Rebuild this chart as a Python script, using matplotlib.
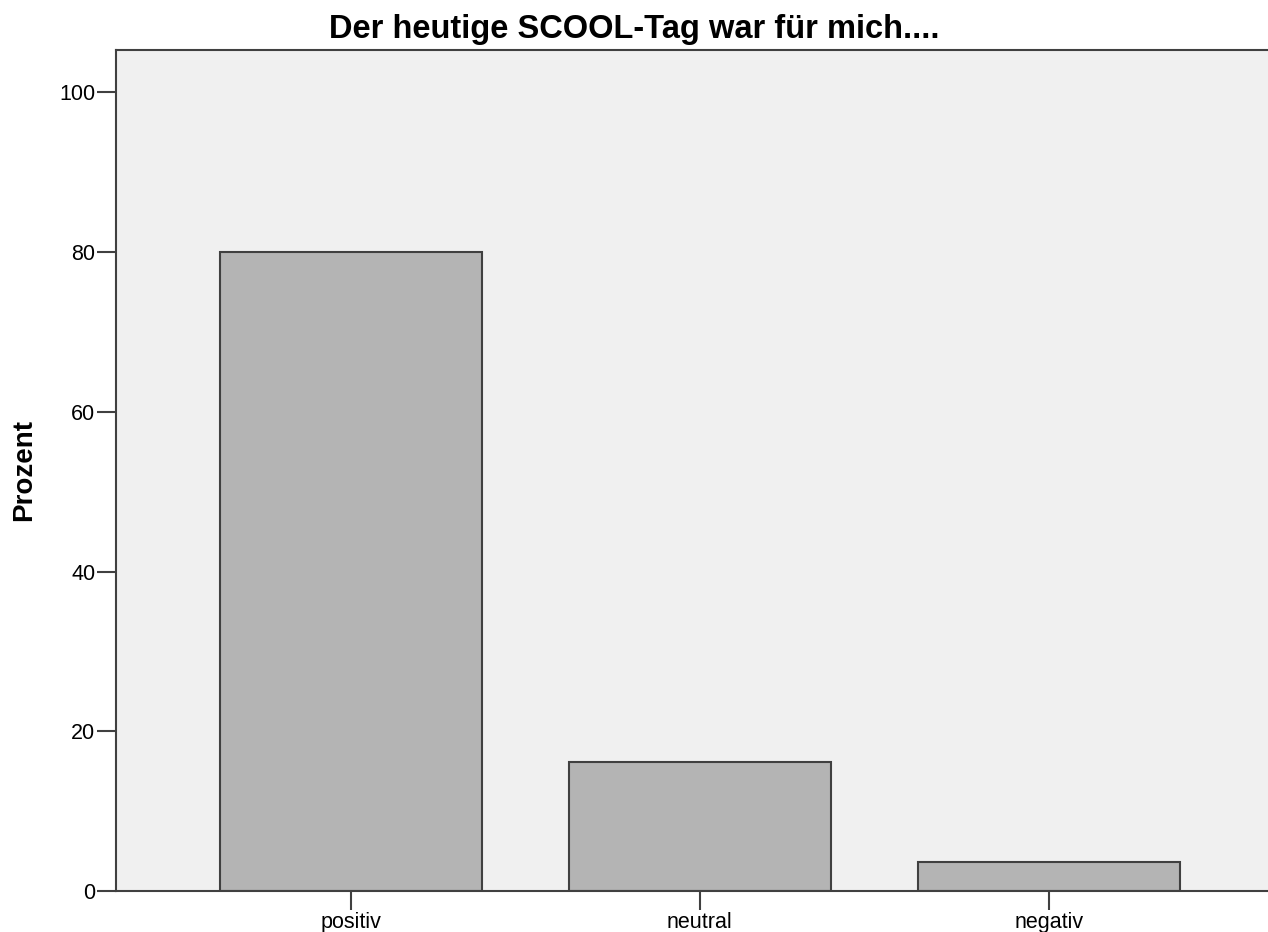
import numpy as np
import matplotlib.pyplot as plt

categories = ["positiv", "neutral", "negativ"]
prozent = [80.0, 16.2, 3.6]
yticks = [0, 20, 40, 60, 80, 100]

plt.rcParams["font.family"] = ["Liberation Sans", "DejaVu Sans"]

fig = plt.figure(figsize=(12.68, 9.32), dpi=100)
ax = fig.add_axes([0.0915, 0.044, 0.9085, 0.9024])
ax.set_facecolor("#f0f0f0")

x = np.arange(len(categories))
ax.bar(x, prozent, width=0.75, color="#b4b4b4", edgecolor="#404040", linewidth=1.5, zorder=2)

ax.set_xlim(-0.672, 2.627)
ax.set_ylim(0, 105.3)
ax.set_xticks(x)
ax.set_xticklabels(categories, fontsize=15.5)
ax.set_yticks(yticks)
ax.set_yticklabels([str(v) for v in yticks], fontsize=15.5)
ax.tick_params(axis="both", direction="out", length=14, width=1.5, color="#404040", pad=1)

for side in ["left", "bottom", "top"]:
    ax.spines[side].set_color("#404040")
    ax.spines[side].set_linewidth(1.5)
ax.spines["right"].set_visible(False)

ax.set_ylabel("Prozent", fontsize=20, fontweight="bold", labelpad=16)
fig.text(0.5, 1 - 38 / 932, "Der heutige SCOOL-Tag war für mich....",
         fontsize=23.5, fontweight="bold", ha="center", va="baseline")

fig.savefig("out.png", dpi=100)
